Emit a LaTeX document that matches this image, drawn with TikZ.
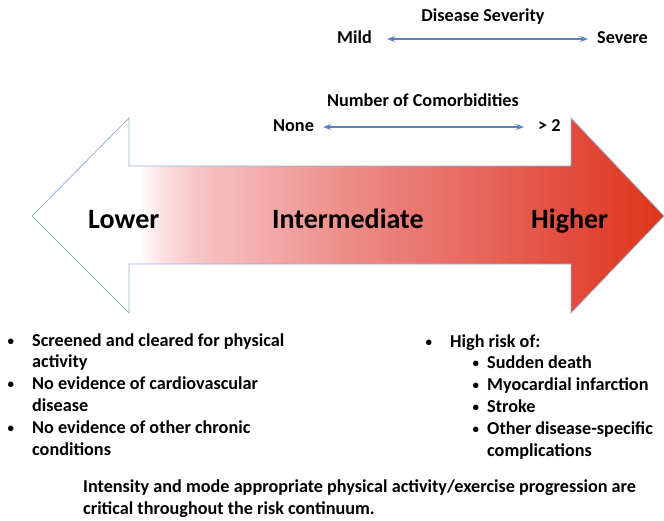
\documentclass[tikz,border=0pt]{standalone}
\usepackage{fontspec}
\setmainfont{Carlito}
\usetikzlibrary{arrows.meta}
\definecolor{outl}{RGB}{150,178,215}
\definecolor{arblue}{RGB}{88,132,192}
\definecolor{rsa}{RGB}{252,228,230}
\definecolor{rsb}{RGB}{248,196,198}
\definecolor{rsc}{RGB}{237,140,136}
\definecolor{rsd}{RGB}{226,76,62}
\definecolor{rse}{RGB}{222,54,24}
\pgfdeclarehorizontalshading{riskshade}{100bp}{color(0bp)=(white); color(33.5bp)=(white); color(35bp)=(rsa); color(38bp)=(rsb); color(50bp)=(rsc); color(67.5bp)=(rsd); color(75bp)=(rse); color(100bp)=(rse)}
\newcommand{\bul}{\raisebox{1pt}{\fontsize{13}{13}\selectfont •}}
\tikzset{
  small/.style={font=\fontsize{18.2}{21.9}\selectfont\bfseries, inner sep=0pt},
  big/.style={font=\fontsize{28}{34}\selectfont\bfseries, inner sep=0pt},
  dblarrow/.style={draw=arblue, line width=2pt, {Stealth[length=8pt,width=6pt]}-{Stealth[length=8pt,width=6pt]}},
}
\begin{document}
\begin{tikzpicture}[x=1pt,y=-1pt]
\useasboundingbox (0,0) rectangle (664,520);
\shade[shading=riskshade, draw=outl, line width=0.8pt]
  (32,216) -- (129,118) -- (129,166) -- (571,166) -- (571,118) -- (664,216)
  -- (571,313) -- (571,264) -- (129,264) -- (129,313) -- cycle;

\node[small, anchor=base] (ds) at (483,21) {Disease Severity};
\node[small, anchor=base west] (mild) at (337,43) {Mild};
\node[small, anchor=base west] (sev) at (597,43) {Severe};
\draw[dblarrow] ([xshift=15pt,yshift=4pt]mild.base east) -- ([xshift=-9pt,yshift=4pt]sev.base west);

\node[small, anchor=base] (nc) at (423,106) {Number of Comorbidities};
\node[small, anchor=base west] (none) at (273,131) {None};
\node[small, anchor=base west] (gt) at (538,131) {> 2};
\draw[dblarrow] ([xshift=9pt,yshift=4pt]none.base east) -- ([xshift=-14pt,yshift=4pt]gt.base west);

\node[big, anchor=base west] (low) at (88,228) {Lower};
\node[big, anchor=base west] (mid) at (272,228) {Intermediate};
\node[big, anchor=base west] (high) at (531,228) {Higher};

\node[small, anchor=base west, align=left] (left) at (32,455.5)
  {\llap{\bul\hspace{18pt}}Screened and cleared for physical\\
   activity\\
   \llap{\bul\hspace{18pt}}No evidence of cardiovascular\\
   disease\\
   \llap{\bul\hspace{18pt}}No evidence of other chronic\\
   conditions};

\node[small, anchor=base west, align=left] (right) at (450,456.5)
  {\llap{\bul\hspace{18pt}}High risk of:\\
   \hspace*{37pt}\llap{\bul\hspace{8pt}}Sudden death\\
   \hspace*{37pt}\llap{\bul\hspace{8pt}}Myocardial infarction\\
   \hspace*{37pt}\llap{\bul\hspace{8pt}}Stroke\\
   \hspace*{37pt}\llap{\bul\hspace{8pt}}Other disease-specific\\
   \hspace*{37pt}complications};

\node[small, anchor=base west, align=left] (note) at (83,514)
  {Intensity and mode appropriate physical activity/exercise progression are\\
   critical throughout the risk continuum.};
\end{tikzpicture}
\end{document}
